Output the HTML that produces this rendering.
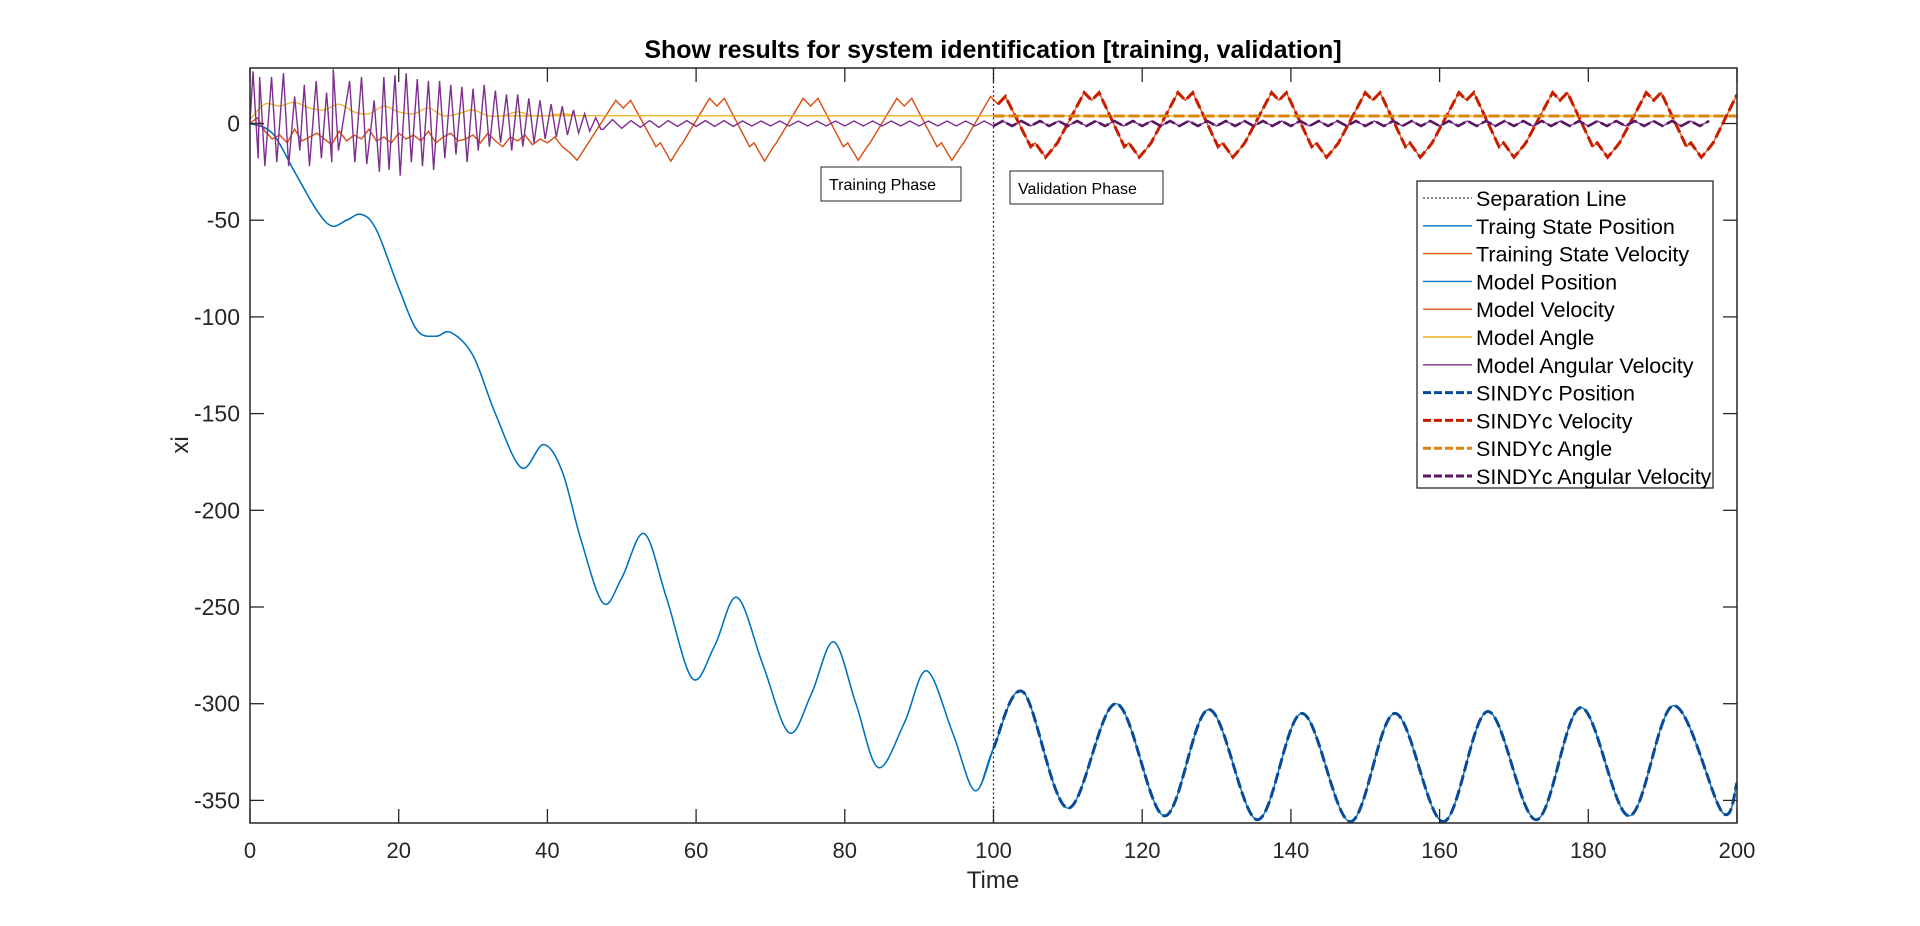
<!DOCTYPE html>
<html><head><meta charset="utf-8"><style>
html,body{margin:0;padding:0;background:#fff;}
svg{display:block;font-family:"Liberation Sans",Arial,sans-serif;}
</style></head><body>
<svg id="chart" width="1920" height="926" viewBox="0 0 1920 926" xmlns="http://www.w3.org/2000/svg">
<rect x="0" y="0" width="1920" height="926" fill="#fff"/>
<g id="plot"></g>
<g id="axes"></g>
<text x="993" y="58" text-anchor="middle" font-weight="bold" font-size="25" fill="#000">Show results for system identification [training, validation]</text>
<text x="993" y="888" text-anchor="middle" font-size="24" fill="#262626">Time</text>
<text transform="translate(188,445) rotate(-90)" text-anchor="middle" font-size="24" fill="#262626">xi</text>
<g>
<rect x="821" y="167" width="140" height="34" fill="#fff" stroke="#262626" stroke-width="1"/>
<text x="829" y="190" font-size="16" fill="#000">Training Phase</text></g>
<g>
<rect x="1010" y="171" width="153" height="33" fill="#fff" stroke="#262626" stroke-width="1"/>
<text x="1018" y="194" font-size="16" fill="#000">Validation Phase</text></g>
<g id="legend"></g>
</svg>
<script>
// ---- data ----
const xTicks=[0,20,40,60,80,100,120,140,160,180,200];
const yTicks=[0,-50,-100,-150,-200,-250,-300,-350];
const separationT=100;
// position extremes
const posT=[0,3,6,9,11,13,15,17,20,22.5,25,27,30,33,36.5,39.5,42,44.5,47.5,50,53,56,59.5,62.5,65.5,69,72.5,75.5,78.5,81.5,84.5,88,91,94.5,97.5,100,104,110,116.5,123,129,135.5,141.5,148,154,160.5,166.5,173,179,185.5,191.5,198,200];
const posV=[0,-5,-25,-45,-53,-50,-47,-55,-85,-107,-110,-108,-120,-150,-178,-166,-180,-215,-248,-235,-212,-245,-287,-270,-245,-280,-315,-295,-268,-300,-333,-310,-283,-315,-345,-323,-294,-354,-300,-358,-303,-360,-305,-361,-305,-361,-304,-360,-302,-358,-301,-356,-341];
// velocity
const velEarlyV=[0,3,-4,-8,-6,-10,-3,-9,-7,-5,-8,-11,-4,-9,-6,-8,-3,-9,-7,-10,-5,-8,-6,-9,-4,-10,-7,-5,-9,-8,-6,-10,-5,-9,-12,-7,-9,-6,-11,-8,-10,-7,-12,-15,-19];
const velPeakT=[50.2,62.8,75.4,88,100.6,113.2,125.8,138.4,151,163.6,176.2,188.8];
const velPeakV=[12,13,13,13,14,16,16,16,16,16,16,16];
const velTroughT=[56.6,69.2,81.8,94.4,107,119.6,132.2,144.8,157.4,170,182.6,195.2];
const velTroughV=[-19.5,-19.5,-19,-19,-17.5,-17.5,-17.5,-17.5,-17.5,-17.5,-17.5,-17.5];
const velEnd=[200,15];
// angle
const angleEarlyV=[2,10,9,11,8,7,10,6,5,9,6,5,8,4,5,7,4,4,6,4,4,5,4,4];
const angleLate=3.9;
// angular velocity
const avSpikeT=[0.4,1.3,2.9,4.5,6.0,7.3,8.9,10.3,11.2,13.4,15,16.7,18,19.5,21,22.5,24,25.5,27,28.5,30,31.5,33,34.5,36,37.5,39,40.5,42,43.5,45,46.5];
const avSpikeUp=[27,24,24,26,14,20,22,16,28,22,24,12,24,25,26,23,22,22,20,19,18,20,17,15,15,13,12,10,9,7,5,3];
const avSpikeDown=[-18,-22,-20,-22,-14,-22,-18,-20,-14,-20,-21,-25,-24,-27,-20,-22,-24,-18,-16,-20,-14,-12,-10,-14,-12,-10,-8,-7,-6,-5,-4,-3];
const avRipT0=47.5, avRipDt=1.25;
const avRipV=[-3,2,-2.5,1.5,-2,1.5,-2,1.5,-1.5,1.5,-1.5,1.5,-1.5,1.5,-1.5,1.3,-1.3,1.3,-1.3,1.3,-1.3,1.3,-1.3,1.3,-1.3,1.3,-1.3,1.3,-1.3,1.3,-1.3,1.3,-1.3,1.3,-1.3,1.3,-1.3,1.3,-1.3,1.3,-1.3,1.3,-1.3,1.3,-1.3,1.3,-1.3,1.3,-1.3,1.3,-1.3,1.3,-1.3,1.3,-1.3,1.3,-1.3,1.3,-1.3,1.3,-1.3,1.3,-1.3,1.3,-1.3,1.3,-1.3,1.3,-1.3,1.3,-1.3,1.3,-1.3,1.3,-1.3,1.3,-1.3,1.3,-1.3,1.3,-1.3,1.3,-1.3,1.3,-1.3,1.3,-1.3,1.3,-1.3,1.3,-1.3,1.3,-1.3,1.3,-1.3,1.3,-1.3,1.3,-1.3,1.3,-1.3,1.3,-1.3,1.3,-1.3,1.3,-1.3,1.3,-1.3,1.3,-1.3,1.3,-1.3,1.3,-1.3,1.3,-1.3,1.3,-1.3,1.3];
const legendLabels=["Separation  Line","Traing State Position","Training State Velocity","Model Position","Model Velocity","Model Angle","Model Angular Velocity","SINDYc Position","SINDYc Velocity","SINDYc Angle","SINDYc Angular Velocity"];

// ---- geometry ----
const L=250,R=1737,T=68,B=823;
const xmin=0,xmax=200,y0px=123.5,ypu=1.934;
const X=t=>L+(t-xmin)/(xmax-xmin)*(R-L);
const Y=v=>y0px-v*ypu;
const NS="http://www.w3.org/2000/svg";
const plot=document.getElementById('plot'), axes=document.getElementById('axes'), legend=document.getElementById('legend');
function mk(tag,attrs,parent){const e=document.createElementNS(NS,tag);for(const k in attrs)e.setAttribute(k,attrs[k]);parent.appendChild(e);return e;}
function linPath(pts){return pts.map((p,i)=>(i?'L':'M')+X(p[0]).toFixed(2)+' '+Y(p[1]).toFixed(2)).join(' ');}
function smoothPath(pts){
  const P=pts.map(p=>[X(p[0]),Y(p[1])]);let d='M'+P[0][0]+' '+P[0][1];
  for(let i=0;i<P.length-1;i++){const p0=P[Math.max(0,i-1)],p1=P[i],p2=P[i+1],p3=P[Math.min(P.length-1,i+2)];
    const c1=[p1[0]+(p2[0]-p0[0])/6,p1[1]+(p2[1]-p0[1])/6],c2=[p2[0]-(p3[0]-p1[0])/6,p2[1]-(p3[1]-p1[1])/6];
    d+=` C${c1[0].toFixed(2)} ${c1[1].toFixed(2)} ${c2[0].toFixed(2)} ${c2[1].toFixed(2)} ${p2[0].toFixed(2)} ${p2[1].toFixed(2)}`;}
  return d;}
const clip=mk('clipPath',{id:'pc'},mk('defs',{},plot));mk('rect',{x:L,y:T,width:R-L,height:B-T},clip);
const g=mk('g',{'clip-path':'url(#pc)'},plot);

// series points
const posPts=posT.map((t,i)=>[t,posV[i]]);
let velPts=velEarlyV.map((v,i)=>[i,v]);
velPeakT.forEach((t,i)=>{const v=velPeakV[i];velPts.push([t-1.0,v],[t,v-4],[t+1.0,v]);});
velTroughT.forEach((t,i)=>{const v=velTroughV[i];velPts.push([t-2.0,-12],[t-1.4,-10],[t,v],[t+1.2,-12],[t+1.6,-10]);});
velPts.push(velEnd);velPts.sort((a,b)=>a[0]-b[0]);
let angPts=angleEarlyV.map((v,i)=>[i*2,v]);angPts.push([200,angleLate]);
let avPts=[[0,0]];avSpikeT.forEach((t,i)=>{avPts.push([t,avSpikeUp[i]],[t+0.7,avSpikeDown[i]]);});
avRipV.forEach((v,i)=>{const t=avRipT0+i*avRipDt;if(t<=200)avPts.push([t,v]);});

const blue='#0072BD',orange='#D95319',yellow='#EDB120',purple='#7E2F8E';
const sBlue='#0A4A9A',sRed='#C81E00',sAng='#D9860F',sAv='#5B1562';
const dash='11 4';
let p;
p=mk('path',{d:smoothPath(posPts.filter(q=>q[0]<=100)),fill:'none',stroke:blue,'stroke-width':1.4},g);

p=mk('path',{d:linPath(velPts.filter(q=>q[0]<=100.6)),fill:'none',stroke:orange,'stroke-width':1.3},g);

p=mk('path',{d:smoothPath(posPts),fill:'none',stroke:blue,'stroke-width':1.4},g);

p=mk('path',{d:linPath(velPts),fill:'none',stroke:orange,'stroke-width':1.3},g);

p=mk('path',{d:smoothPath(angPts),fill:'none',stroke:yellow,'stroke-width':1.3},g);

p=mk('path',{d:linPath(avPts),fill:'none',stroke:purple,'stroke-width':1.4},g);

// separation line
p=mk('line',{x1:X(separationT),x2:X(separationT),y1:T,y2:B,stroke:'#333','stroke-width':1.3,'stroke-dasharray':'2 2.5'},g);

// SINDYc
const after=a=>a.filter(q=>q[0]>=100);
p=mk('path',{d:smoothPath([[100,-323]].concat(posPts.filter(q=>q[0]>100))),fill:'none',stroke:sBlue,'stroke-width':3,'stroke-dasharray':dash},g);

p=mk('path',{d:linPath(after(velPts)),fill:'none',stroke:sRed,'stroke-width':3,'stroke-dasharray':dash},g);

p=mk('path',{d:linPath([[100,angleLate],[200,angleLate]]),fill:'none',stroke:sAng,'stroke-width':3,'stroke-dasharray':dash},g);

p=mk('path',{d:linPath(after(avPts)),fill:'none',stroke:sAv,'stroke-width':2.6,'stroke-dasharray':dash},g);


// axes box & ticks
p=mk('rect',{x:L,y:T,width:R-L,height:B-T,fill:'none',stroke:'#262626','stroke-width':1.5},axes);

xTicks.forEach(t=>{const x=X(t);
  mk('line',{x1:x,x2:x,y1:B,y2:B-14,stroke:'#262626','stroke-width':1.3},axes);
  mk('line',{x1:x,x2:x,y1:T,y2:T+14,stroke:'#262626','stroke-width':1.3},axes);
  const tx=mk('text',{x:x,y:858,'text-anchor':'middle','font-size':22,fill:'#262626'},axes);tx.textContent=t;
  });
yTicks.forEach(v=>{const y=Y(v);
  mk('line',{x1:L,x2:L+14,y1:y,y2:y,stroke:'#262626','stroke-width':1.3},axes);
  mk('line',{x1:R,x2:R-14,y1:y,y2:y,stroke:'#262626','stroke-width':1.3},axes);
  const tx=mk('text',{x:240,y:y+8,'text-anchor':'end','font-size':23,fill:'#262626'},axes);tx.textContent=v;
  });

// legend
const lc=['#444',blue,orange,blue,orange,yellow,purple,sBlue,sRed,sAng,sAv];
const ld=['2 2','','','','','','','8 3','8 3','8 3','8 3'];
const lw=[1.3,1.4,1.4,1.4,1.4,1.4,1.4,3,3,3,3];
mk('rect',{x:1417,y:181,width:296,height:307,fill:'#fff',stroke:'#262626','stroke-width':1.3},legend);
legendLabels.forEach((lab,i)=>{const cy=198+i*27.8;
  const e=mk('g',{},legend);
  
  const a={x1:1423,x2:1472,y1:cy,y2:cy,stroke:lc[i],'stroke-width':lw[i]};if(ld[i])a['stroke-dasharray']=ld[i];
  mk('line',a,e);
  const tx=mk('text',{x:1476,y:cy+8,'font-size':21.5,fill:'#000'},e);tx.textContent=lab;});
</script>
</body></html>
